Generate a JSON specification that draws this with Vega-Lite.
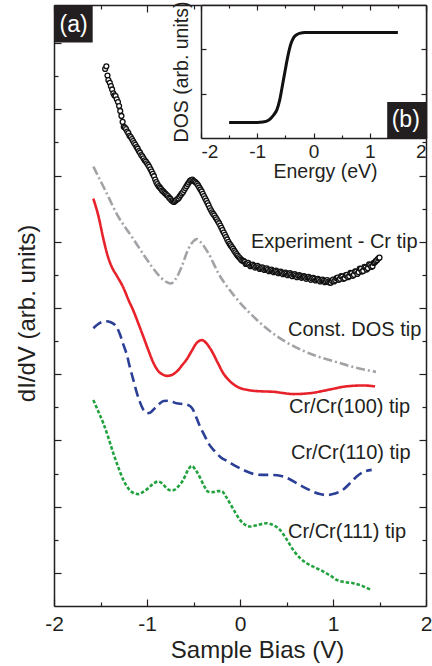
{
  "$schema": "https://vega.github.io/schema/vega-lite/v6.json",
  "width": 372,
  "height": 601,
  "autosize": {"type": "none"},
  "padding": {"left": 54, "top": 5, "right": 6, "bottom": 60},
  "background": "white",
  "config": {
    "view": {"stroke": null},
    "font": "Liberation Sans",
    "axis": {
      "grid": false,
      "domainColor": "#231f20",
      "domainWidth": 1.5,
      "tickColor": "#231f20",
      "tickWidth": 1.2,
      "labelColor": "#231f20",
      "titleColor": "#231f20",
      "labelFont": "Liberation Sans",
      "titleFont": "Liberation Sans",
      "titleFontWeight": "normal",
      "labelOverlap": false
    }
  },
  "datasets": {
    "curves": [
      {"tip": "Const. DOS", "bias": -1.577, "didv": 13.27},
      {"tip": "Const. DOS", "bias": -1.452, "didv": 12.57},
      {"tip": "Const. DOS", "bias": -1.309, "didv": 11.76},
      {"tip": "Const. DOS", "bias": -1.165, "didv": 11.16},
      {"tip": "Const. DOS", "bias": -1.022, "didv": 10.55},
      {"tip": "Const. DOS", "bias": -0.878, "didv": 10.0},
      {"tip": "Const. DOS", "bias": -0.8, "didv": 9.8},
      {"tip": "Const. DOS", "bias": -0.742, "didv": 9.74},
      {"tip": "Const. DOS", "bias": -0.69, "didv": 9.88},
      {"tip": "Const. DOS", "bias": -0.627, "didv": 10.25},
      {"tip": "Const. DOS", "bias": -0.559, "didv": 10.76},
      {"tip": "Const. DOS", "bias": -0.5, "didv": 11.02},
      {"tip": "Const. DOS", "bias": -0.466, "didv": 11.08},
      {"tip": "Const. DOS", "bias": -0.42, "didv": 10.98},
      {"tip": "Const. DOS", "bias": -0.341, "didv": 10.66},
      {"tip": "Const. DOS", "bias": -0.233, "didv": 10.05},
      {"tip": "Const. DOS", "bias": -0.054, "didv": 9.34},
      {"tip": "Const. DOS", "bias": 0.126, "didv": 8.79},
      {"tip": "Const. DOS", "bias": 0.304, "didv": 8.34},
      {"tip": "Const. DOS", "bias": 0.484, "didv": 7.99},
      {"tip": "Const. DOS", "bias": 0.663, "didv": 7.73},
      {"tip": "Const. DOS", "bias": 0.842, "didv": 7.53},
      {"tip": "Const. DOS", "bias": 1.022, "didv": 7.38},
      {"tip": "Const. DOS", "bias": 1.201, "didv": 7.23},
      {"tip": "Const. DOS", "bias": 1.462, "didv": 7.07},

      {"tip": "Cr/Cr(100)", "bias": -1.577, "didv": 12.3},
      {"tip": "Cr/Cr(100)", "bias": -1.52, "didv": 11.75},
      {"tip": "Cr/Cr(100)", "bias": -1.47, "didv": 11.1},
      {"tip": "Cr/Cr(100)", "bias": -1.42, "didv": 10.55},
      {"tip": "Cr/Cr(100)", "bias": -1.38, "didv": 10.25},
      {"tip": "Cr/Cr(100)", "bias": -1.32, "didv": 9.95},
      {"tip": "Cr/Cr(100)", "bias": -1.255, "didv": 9.62},
      {"tip": "Cr/Cr(100)", "bias": -1.2, "didv": 9.25},
      {"tip": "Cr/Cr(100)", "bias": -1.147, "didv": 8.92},
      {"tip": "Cr/Cr(100)", "bias": -1.094, "didv": 8.54},
      {"tip": "Cr/Cr(100)", "bias": -1.04, "didv": 8.14},
      {"tip": "Cr/Cr(100)", "bias": -0.986, "didv": 7.73},
      {"tip": "Cr/Cr(100)", "bias": -0.932, "didv": 7.35},
      {"tip": "Cr/Cr(100)", "bias": -0.88, "didv": 7.1},
      {"tip": "Cr/Cr(100)", "bias": -0.83, "didv": 6.99},
      {"tip": "Cr/Cr(100)", "bias": -0.78, "didv": 6.95},
      {"tip": "Cr/Cr(100)", "bias": -0.73, "didv": 6.98},
      {"tip": "Cr/Cr(100)", "bias": -0.68, "didv": 7.08},
      {"tip": "Cr/Cr(100)", "bias": -0.62, "didv": 7.28},
      {"tip": "Cr/Cr(100)", "bias": -0.573, "didv": 7.45},
      {"tip": "Cr/Cr(100)", "bias": -0.52, "didv": 7.7},
      {"tip": "Cr/Cr(100)", "bias": -0.47, "didv": 7.93},
      {"tip": "Cr/Cr(100)", "bias": -0.41, "didv": 8.03},
      {"tip": "Cr/Cr(100)", "bias": -0.36, "didv": 7.93},
      {"tip": "Cr/Cr(100)", "bias": -0.304, "didv": 7.7},
      {"tip": "Cr/Cr(100)", "bias": -0.24, "didv": 7.35},
      {"tip": "Cr/Cr(100)", "bias": -0.18, "didv": 7.03},
      {"tip": "Cr/Cr(100)", "bias": -0.12, "didv": 6.82},
      {"tip": "Cr/Cr(100)", "bias": -0.035, "didv": 6.63},
      {"tip": "Cr/Cr(100)", "bias": 0.072, "didv": 6.53},
      {"tip": "Cr/Cr(100)", "bias": 0.143, "didv": 6.5},
      {"tip": "Cr/Cr(100)", "bias": 0.25, "didv": 6.48},
      {"tip": "Cr/Cr(100)", "bias": 0.358, "didv": 6.47},
      {"tip": "Cr/Cr(100)", "bias": 0.465, "didv": 6.43},
      {"tip": "Cr/Cr(100)", "bias": 0.573, "didv": 6.4},
      {"tip": "Cr/Cr(100)", "bias": 0.68, "didv": 6.41},
      {"tip": "Cr/Cr(100)", "bias": 0.788, "didv": 6.44},
      {"tip": "Cr/Cr(100)", "bias": 0.9, "didv": 6.5},
      {"tip": "Cr/Cr(100)", "bias": 1.003, "didv": 6.56},
      {"tip": "Cr/Cr(100)", "bias": 1.11, "didv": 6.62},
      {"tip": "Cr/Cr(100)", "bias": 1.218, "didv": 6.65},
      {"tip": "Cr/Cr(100)", "bias": 1.33, "didv": 6.66},
      {"tip": "Cr/Cr(100)", "bias": 1.452, "didv": 6.63},

      {"tip": "Cr/Cr(110)", "bias": -1.577, "didv": 8.39},
      {"tip": "Cr/Cr(110)", "bias": -1.505, "didv": 8.55},
      {"tip": "Cr/Cr(110)", "bias": -1.44, "didv": 8.6},
      {"tip": "Cr/Cr(110)", "bias": -1.39, "didv": 8.57},
      {"tip": "Cr/Cr(110)", "bias": -1.326, "didv": 8.42},
      {"tip": "Cr/Cr(110)", "bias": -1.29, "didv": 8.2},
      {"tip": "Cr/Cr(110)", "bias": -1.255, "didv": 7.9},
      {"tip": "Cr/Cr(110)", "bias": -1.218, "didv": 7.6},
      {"tip": "Cr/Cr(110)", "bias": -1.183, "didv": 7.2},
      {"tip": "Cr/Cr(110)", "bias": -1.147, "didv": 6.83},
      {"tip": "Cr/Cr(110)", "bias": -1.111, "didv": 6.45},
      {"tip": "Cr/Cr(110)", "bias": -1.075, "didv": 6.15},
      {"tip": "Cr/Cr(110)", "bias": -1.04, "didv": 5.93},
      {"tip": "Cr/Cr(110)", "bias": -1.0, "didv": 5.82},
      {"tip": "Cr/Cr(110)", "bias": -0.96, "didv": 5.85},
      {"tip": "Cr/Cr(110)", "bias": -0.92, "didv": 5.96},
      {"tip": "Cr/Cr(110)", "bias": -0.87, "didv": 6.1},
      {"tip": "Cr/Cr(110)", "bias": -0.82, "didv": 6.19},
      {"tip": "Cr/Cr(110)", "bias": -0.77, "didv": 6.2},
      {"tip": "Cr/Cr(110)", "bias": -0.72, "didv": 6.16},
      {"tip": "Cr/Cr(110)", "bias": -0.681, "didv": 6.12},
      {"tip": "Cr/Cr(110)", "bias": -0.62, "didv": 6.1},
      {"tip": "Cr/Cr(110)", "bias": -0.573, "didv": 6.08},
      {"tip": "Cr/Cr(110)", "bias": -0.53, "didv": 6.02},
      {"tip": "Cr/Cr(110)", "bias": -0.5, "didv": 5.9},
      {"tip": "Cr/Cr(110)", "bias": -0.465, "didv": 5.66},
      {"tip": "Cr/Cr(110)", "bias": -0.43, "didv": 5.42},
      {"tip": "Cr/Cr(110)", "bias": -0.385, "didv": 5.17},
      {"tip": "Cr/Cr(110)", "bias": -0.341, "didv": 4.92},
      {"tip": "Cr/Cr(110)", "bias": -0.28, "didv": 4.7},
      {"tip": "Cr/Cr(110)", "bias": -0.215, "didv": 4.51},
      {"tip": "Cr/Cr(110)", "bias": -0.12, "didv": 4.35},
      {"tip": "Cr/Cr(110)", "bias": -0.035, "didv": 4.21},
      {"tip": "Cr/Cr(110)", "bias": 0.05, "didv": 4.09},
      {"tip": "Cr/Cr(110)", "bias": 0.143, "didv": 3.99},
      {"tip": "Cr/Cr(110)", "bias": 0.23, "didv": 3.96},
      {"tip": "Cr/Cr(110)", "bias": 0.323, "didv": 3.96},
      {"tip": "Cr/Cr(110)", "bias": 0.4, "didv": 3.95},
      {"tip": "Cr/Cr(110)", "bias": 0.466, "didv": 3.91},
      {"tip": "Cr/Cr(110)", "bias": 0.54, "didv": 3.82},
      {"tip": "Cr/Cr(110)", "bias": 0.61, "didv": 3.71},
      {"tip": "Cr/Cr(110)", "bias": 0.7, "didv": 3.57},
      {"tip": "Cr/Cr(110)", "bias": 0.788, "didv": 3.45},
      {"tip": "Cr/Cr(110)", "bias": 0.86, "didv": 3.38},
      {"tip": "Cr/Cr(110)", "bias": 0.932, "didv": 3.35},
      {"tip": "Cr/Cr(110)", "bias": 1.0, "didv": 3.38},
      {"tip": "Cr/Cr(110)", "bias": 1.06, "didv": 3.44},
      {"tip": "Cr/Cr(110)", "bias": 1.111, "didv": 3.52},
      {"tip": "Cr/Cr(110)", "bias": 1.18, "didv": 3.7},
      {"tip": "Cr/Cr(110)", "bias": 1.255, "didv": 3.91},
      {"tip": "Cr/Cr(110)", "bias": 1.33, "didv": 4.05},
      {"tip": "Cr/Cr(110)", "bias": 1.416, "didv": 4.11},

      {"tip": "Cr/Cr(111)", "bias": -1.577, "didv": 6.22},
      {"tip": "Cr/Cr(111)", "bias": -1.52, "didv": 5.85},
      {"tip": "Cr/Cr(111)", "bias": -1.47, "didv": 5.52},
      {"tip": "Cr/Cr(111)", "bias": -1.415, "didv": 5.08},
      {"tip": "Cr/Cr(111)", "bias": -1.362, "didv": 4.61},
      {"tip": "Cr/Cr(111)", "bias": -1.31, "didv": 4.2},
      {"tip": "Cr/Cr(111)", "bias": -1.255, "didv": 3.81},
      {"tip": "Cr/Cr(111)", "bias": -1.2, "didv": 3.55},
      {"tip": "Cr/Cr(111)", "bias": -1.15, "didv": 3.42},
      {"tip": "Cr/Cr(111)", "bias": -1.094, "didv": 3.38},
      {"tip": "Cr/Cr(111)", "bias": -1.04, "didv": 3.45},
      {"tip": "Cr/Cr(111)", "bias": -0.986, "didv": 3.56},
      {"tip": "Cr/Cr(111)", "bias": -0.93, "didv": 3.7},
      {"tip": "Cr/Cr(111)", "bias": -0.878, "didv": 3.76},
      {"tip": "Cr/Cr(111)", "bias": -0.83, "didv": 3.68},
      {"tip": "Cr/Cr(111)", "bias": -0.796, "didv": 3.58},
      {"tip": "Cr/Cr(111)", "bias": -0.757, "didv": 3.5},
      {"tip": "Cr/Cr(111)", "bias": -0.717, "didv": 3.5},
      {"tip": "Cr/Cr(111)", "bias": -0.66, "didv": 3.62},
      {"tip": "Cr/Cr(111)", "bias": -0.61, "didv": 3.81},
      {"tip": "Cr/Cr(111)", "bias": -0.56, "didv": 4.1},
      {"tip": "Cr/Cr(111)", "bias": -0.519, "didv": 4.23},
      {"tip": "Cr/Cr(111)", "bias": -0.475, "didv": 4.1},
      {"tip": "Cr/Cr(111)", "bias": -0.43, "didv": 3.88},
      {"tip": "Cr/Cr(111)", "bias": -0.385, "didv": 3.62},
      {"tip": "Cr/Cr(111)", "bias": -0.341, "didv": 3.45},
      {"tip": "Cr/Cr(111)", "bias": -0.29, "didv": 3.44},
      {"tip": "Cr/Cr(111)", "bias": -0.24, "didv": 3.47},
      {"tip": "Cr/Cr(111)", "bias": -0.197, "didv": 3.47},
      {"tip": "Cr/Cr(111)", "bias": -0.15, "didv": 3.3},
      {"tip": "Cr/Cr(111)", "bias": -0.108, "didv": 3.1},
      {"tip": "Cr/Cr(111)", "bias": -0.05, "didv": 2.82},
      {"tip": "Cr/Cr(111)", "bias": 0.0, "didv": 2.6},
      {"tip": "Cr/Cr(111)", "bias": 0.05, "didv": 2.46},
      {"tip": "Cr/Cr(111)", "bias": 0.108, "didv": 2.4},
      {"tip": "Cr/Cr(111)", "bias": 0.194, "didv": 2.45},
      {"tip": "Cr/Cr(111)", "bias": 0.287, "didv": 2.5},
      {"tip": "Cr/Cr(111)", "bias": 0.36, "didv": 2.44},
      {"tip": "Cr/Cr(111)", "bias": 0.43, "didv": 2.3},
      {"tip": "Cr/Cr(111)", "bias": 0.5, "didv": 2.02},
      {"tip": "Cr/Cr(111)", "bias": 0.573, "didv": 1.69},
      {"tip": "Cr/Cr(111)", "bias": 0.645, "didv": 1.45},
      {"tip": "Cr/Cr(111)", "bias": 0.717, "didv": 1.29},
      {"tip": "Cr/Cr(111)", "bias": 0.8, "didv": 1.17},
      {"tip": "Cr/Cr(111)", "bias": 0.896, "didv": 1.04},
      {"tip": "Cr/Cr(111)", "bias": 0.97, "didv": 0.92},
      {"tip": "Cr/Cr(111)", "bias": 1.04, "didv": 0.79},
      {"tip": "Cr/Cr(111)", "bias": 1.13, "didv": 0.72},
      {"tip": "Cr/Cr(111)", "bias": 1.218, "didv": 0.69},
      {"tip": "Cr/Cr(111)", "bias": 1.32, "didv": 0.6},
      {"tip": "Cr/Cr(111)", "bias": 1.416, "didv": 0.48}
    ],
    "experiment": [
      {"bias": -1.45, "didv": 16.22}, {"bias": -1.437, "didv": 16.3}, {"bias": -1.425, "didv": 16.02},
      {"bias": -1.415, "didv": 15.88}, {"bias": -1.4, "didv": 15.8}, {"bias": -1.388, "didv": 15.7},
      {"bias": -1.375, "didv": 15.6}, {"bias": -1.362, "didv": 15.48}, {"bias": -1.35, "didv": 15.42},
      {"bias": -1.338, "didv": 15.4}, {"bias": -1.325, "didv": 15.3}, {"bias": -1.312, "didv": 15.22},
      {"bias": -1.3, "didv": 15.1}, {"bias": -1.288, "didv": 14.95}, {"bias": -1.275, "didv": 14.8},
      {"bias": -1.262, "didv": 14.62}, {"bias": -1.25, "didv": 14.47}, {"bias": -1.238, "didv": 14.45},
      {"bias": -1.225, "didv": 14.4}, {"bias": -1.212, "didv": 14.33}, {"bias": -1.2, "didv": 14.28},
      {"bias": -1.188, "didv": 14.2}, {"bias": -1.175, "didv": 14.16}, {"bias": -1.162, "didv": 14.1},
      {"bias": -1.15, "didv": 14.04}, {"bias": -1.138, "didv": 13.98}, {"bias": -1.125, "didv": 13.93},
      {"bias": -1.112, "didv": 13.86}, {"bias": -1.1, "didv": 13.81}, {"bias": -1.088, "didv": 13.74},
      {"bias": -1.075, "didv": 13.69}, {"bias": -1.062, "didv": 13.62}, {"bias": -1.05, "didv": 13.58},
      {"bias": -1.038, "didv": 13.52}, {"bias": -1.025, "didv": 13.46}, {"bias": -1.012, "didv": 13.42},
      {"bias": -1.0, "didv": 13.37}, {"bias": -0.988, "didv": 13.32}, {"bias": -0.975, "didv": 13.26},
      {"bias": -0.962, "didv": 13.19}, {"bias": -0.95, "didv": 13.12}, {"bias": -0.938, "didv": 13.05},
      {"bias": -0.925, "didv": 12.98}, {"bias": -0.912, "didv": 12.88}, {"bias": -0.9, "didv": 12.8},
      {"bias": -0.888, "didv": 12.74}, {"bias": -0.875, "didv": 12.68}, {"bias": -0.862, "didv": 12.64},
      {"bias": -0.85, "didv": 12.6}, {"bias": -0.838, "didv": 12.55}, {"bias": -0.825, "didv": 12.52},
      {"bias": -0.812, "didv": 12.48}, {"bias": -0.8, "didv": 12.45}, {"bias": -0.788, "didv": 12.41},
      {"bias": -0.775, "didv": 12.38}, {"bias": -0.762, "didv": 12.33}, {"bias": -0.75, "didv": 12.3},
      {"bias": -0.738, "didv": 12.25}, {"bias": -0.725, "didv": 12.23}, {"bias": -0.712, "didv": 12.2},
      {"bias": -0.7, "didv": 12.22}, {"bias": -0.688, "didv": 12.25}, {"bias": -0.675, "didv": 12.28},
      {"bias": -0.662, "didv": 12.31}, {"bias": -0.65, "didv": 12.36}, {"bias": -0.638, "didv": 12.41},
      {"bias": -0.625, "didv": 12.46}, {"bias": -0.612, "didv": 12.5}, {"bias": -0.6, "didv": 12.56},
      {"bias": -0.588, "didv": 12.62}, {"bias": -0.575, "didv": 12.68}, {"bias": -0.562, "didv": 12.74},
      {"bias": -0.55, "didv": 12.79}, {"bias": -0.538, "didv": 12.84}, {"bias": -0.525, "didv": 12.86},
      {"bias": -0.512, "didv": 12.88}, {"bias": -0.5, "didv": 12.84}, {"bias": -0.488, "didv": 12.82},
      {"bias": -0.475, "didv": 12.79}, {"bias": -0.462, "didv": 12.75}, {"bias": -0.45, "didv": 12.7},
      {"bias": -0.438, "didv": 12.64}, {"bias": -0.425, "didv": 12.58}, {"bias": -0.412, "didv": 12.52},
      {"bias": -0.4, "didv": 12.45}, {"bias": -0.388, "didv": 12.38}, {"bias": -0.375, "didv": 12.31},
      {"bias": -0.362, "didv": 12.24}, {"bias": -0.35, "didv": 12.17}, {"bias": -0.338, "didv": 12.1},
      {"bias": -0.325, "didv": 12.02}, {"bias": -0.312, "didv": 11.95}, {"bias": -0.3, "didv": 11.89},
      {"bias": -0.288, "didv": 11.84}, {"bias": -0.275, "didv": 11.79}, {"bias": -0.262, "didv": 11.73},
      {"bias": -0.25, "didv": 11.68}, {"bias": -0.238, "didv": 11.62}, {"bias": -0.225, "didv": 11.56},
      {"bias": -0.212, "didv": 11.49}, {"bias": -0.2, "didv": 11.42}, {"bias": -0.188, "didv": 11.35},
      {"bias": -0.175, "didv": 11.28}, {"bias": -0.162, "didv": 11.21}, {"bias": -0.15, "didv": 11.14},
      {"bias": -0.138, "didv": 11.07}, {"bias": -0.125, "didv": 11.0}, {"bias": -0.112, "didv": 10.94},
      {"bias": -0.1, "didv": 10.89}, {"bias": -0.088, "didv": 10.84}, {"bias": -0.075, "didv": 10.79},
      {"bias": -0.062, "didv": 10.73}, {"bias": -0.05, "didv": 10.68}, {"bias": -0.038, "didv": 10.63},
      {"bias": -0.025, "didv": 10.58}, {"bias": -0.012, "didv": 10.54}, {"bias": 0.0, "didv": 10.5},
      {"bias": 0.012, "didv": 10.46}, {"bias": 0.025, "didv": 10.43}, {"bias": 0.038, "didv": 10.42},
      {"bias": 0.05, "didv": 10.39}, {"bias": 0.062, "didv": 10.33}, {"bias": 0.075, "didv": 10.34},
      {"bias": 0.088, "didv": 10.36}, {"bias": 0.1, "didv": 10.31}, {"bias": 0.112, "didv": 10.26},
      {"bias": 0.125, "didv": 10.29}, {"bias": 0.138, "didv": 10.31}, {"bias": 0.15, "didv": 10.27},
      {"bias": 0.162, "didv": 10.22}, {"bias": 0.175, "didv": 10.25}, {"bias": 0.188, "didv": 10.27},
      {"bias": 0.2, "didv": 10.23}, {"bias": 0.212, "didv": 10.18}, {"bias": 0.225, "didv": 10.21},
      {"bias": 0.238, "didv": 10.23}, {"bias": 0.25, "didv": 10.2}, {"bias": 0.262, "didv": 10.15},
      {"bias": 0.275, "didv": 10.18}, {"bias": 0.288, "didv": 10.2}, {"bias": 0.3, "didv": 10.16},
      {"bias": 0.312, "didv": 10.11}, {"bias": 0.325, "didv": 10.14}, {"bias": 0.338, "didv": 10.16},
      {"bias": 0.35, "didv": 10.12}, {"bias": 0.362, "didv": 10.08}, {"bias": 0.375, "didv": 10.11},
      {"bias": 0.388, "didv": 10.13}, {"bias": 0.4, "didv": 10.1}, {"bias": 0.412, "didv": 10.05},
      {"bias": 0.425, "didv": 10.08}, {"bias": 0.438, "didv": 10.1}, {"bias": 0.45, "didv": 10.07},
      {"bias": 0.462, "didv": 10.02}, {"bias": 0.475, "didv": 10.05}, {"bias": 0.488, "didv": 10.07},
      {"bias": 0.5, "didv": 10.04}, {"bias": 0.512, "didv": 9.99}, {"bias": 0.525, "didv": 10.03},
      {"bias": 0.538, "didv": 10.05}, {"bias": 0.55, "didv": 10.01}, {"bias": 0.562, "didv": 9.96},
      {"bias": 0.575, "didv": 10.0}, {"bias": 0.588, "didv": 10.02}, {"bias": 0.6, "didv": 9.98},
      {"bias": 0.612, "didv": 9.93}, {"bias": 0.625, "didv": 9.97}, {"bias": 0.638, "didv": 9.99},
      {"bias": 0.65, "didv": 9.96}, {"bias": 0.662, "didv": 9.91}, {"bias": 0.675, "didv": 9.94},
      {"bias": 0.688, "didv": 9.96}, {"bias": 0.7, "didv": 9.93}, {"bias": 0.712, "didv": 9.88},
      {"bias": 0.725, "didv": 9.92}, {"bias": 0.738, "didv": 9.94}, {"bias": 0.75, "didv": 9.9},
      {"bias": 0.762, "didv": 9.85}, {"bias": 0.775, "didv": 9.89}, {"bias": 0.788, "didv": 9.91},
      {"bias": 0.8, "didv": 9.88}, {"bias": 0.812, "didv": 9.83}, {"bias": 0.825, "didv": 9.86},
      {"bias": 0.838, "didv": 9.88}, {"bias": 0.85, "didv": 9.85}, {"bias": 0.862, "didv": 9.8},
      {"bias": 0.875, "didv": 9.84}, {"bias": 0.888, "didv": 9.86}, {"bias": 0.9, "didv": 9.82},
      {"bias": 0.912, "didv": 9.78}, {"bias": 0.925, "didv": 9.8}, {"bias": 0.938, "didv": 9.84},
      {"bias": 0.95, "didv": 9.8}, {"bias": 0.962, "didv": 9.77}, {"bias": 0.975, "didv": 9.76},
      {"bias": 0.988, "didv": 9.82}, {"bias": 1.0, "didv": 9.86}, {"bias": 1.012, "didv": 9.8},
      {"bias": 1.025, "didv": 9.84}, {"bias": 1.038, "didv": 9.9}, {"bias": 1.05, "didv": 9.92},
      {"bias": 1.062, "didv": 9.85}, {"bias": 1.075, "didv": 9.88}, {"bias": 1.088, "didv": 9.96},
      {"bias": 1.1, "didv": 9.95}, {"bias": 1.112, "didv": 9.88}, {"bias": 1.125, "didv": 9.9},
      {"bias": 1.138, "didv": 9.99}, {"bias": 1.15, "didv": 10.0}, {"bias": 1.162, "didv": 9.93},
      {"bias": 1.175, "didv": 9.96}, {"bias": 1.188, "didv": 10.06}, {"bias": 1.2, "didv": 10.05},
      {"bias": 1.212, "didv": 9.97}, {"bias": 1.225, "didv": 10.0}, {"bias": 1.238, "didv": 10.11},
      {"bias": 1.25, "didv": 10.1}, {"bias": 1.262, "didv": 10.03}, {"bias": 1.275, "didv": 10.08},
      {"bias": 1.288, "didv": 10.19}, {"bias": 1.3, "didv": 10.18}, {"bias": 1.312, "didv": 10.1},
      {"bias": 1.325, "didv": 10.12}, {"bias": 1.338, "didv": 10.24}, {"bias": 1.35, "didv": 10.22},
      {"bias": 1.362, "didv": 10.16}, {"bias": 1.375, "didv": 10.2}, {"bias": 1.388, "didv": 10.32},
      {"bias": 1.4, "didv": 10.3}, {"bias": 1.412, "didv": 10.24}, {"bias": 1.425, "didv": 10.26},
      {"bias": 1.438, "didv": 10.36}, {"bias": 1.45, "didv": 10.38}, {"bias": 1.462, "didv": 10.42},
      {"bias": 1.475, "didv": 10.45}, {"bias": 1.488, "didv": 10.5}, {"bias": 1.5, "didv": 10.52}
    ],
    "dos": [
      {"energy": -1.5, "dos": 0.35}, {"energy": -1.2, "dos": 0.35}, {"energy": -1.0, "dos": 0.35},
      {"energy": -0.9, "dos": 0.36}, {"energy": -0.8, "dos": 0.4}, {"energy": -0.72, "dos": 0.5},
      {"energy": -0.65, "dos": 0.64}, {"energy": -0.6, "dos": 0.86}, {"energy": -0.55, "dos": 1.2},
      {"energy": -0.5, "dos": 1.55}, {"energy": -0.45, "dos": 1.88}, {"energy": -0.4, "dos": 2.13},
      {"energy": -0.35, "dos": 2.27}, {"energy": -0.3, "dos": 2.33}, {"energy": -0.25, "dos": 2.36},
      {"energy": -0.15, "dos": 2.38}, {"energy": 0.0, "dos": 2.38}, {"energy": 0.5, "dos": 2.38},
      {"energy": 1.0, "dos": 2.38}, {"energy": 1.5, "dos": 2.38}
    ],
    "labels": [
      {"label": "Experiment - Cr tip", "x": 0.118, "y": 11.0},
      {"label": "Const. DOS tip", "x": 0.516, "y": 8.34},
      {"label": "Cr/Cr(100) tip", "x": 0.527, "y": 6.02},
      {"label": "Cr/Cr(110) tip", "x": 0.548, "y": 4.61},
      {"label": "Cr/Cr(111) tip", "x": 0.516, "y": 2.24}
    ]
  },
  "layer": [
    {
      "data": {"name": "curves"},
      "mark": {"type": "line", "strokeWidth": 2.6, "interpolate": "monotone"},
      "encoding": {
        "x": {
          "field": "bias", "type": "quantitative",
          "scale": {"domain": [-2, 2]},
          "axis": {
            "orient": "bottom",
            "values": [-2, -1.5, -1, -0.5, 0, 0.5, 1, 1.5, 2],
            "labelExpr": "datum.value % 1 === 0 ? '' + datum.value : ''",
            "labelFontSize": 21,
            "labelPadding": 14,
            "labelFlush": false,
            "tickSize": {"condition": {"test": "datum.value % 1 === 0", "value": -7}, "value": -4},
            "title": "Sample Bias (V)",
            "titleFontSize": 24,
            "titlePadding": 1,
            "titleX": 203
          }
        },
        "y": {
          "field": "didv", "type": "quantitative",
          "scale": {"domain": [0, 18.15]},
          "axis": {
            "orient": "left",
            "values": [1, 2, 3, 4, 5, 6, 7, 8, 9, 10, 11, 12, 13, 14, 15, 16, 17, 18],
            "labels": false,
            "tickSize": {"condition": {"test": "datum.value % 2 === 1", "value": -7}, "value": -4},
            "title": "dI/dV (arb. units)",
            "titleFontSize": 24,
            "titlePadding": 14,
            "titleY": 308
          }
        },
        "color": {
          "field": "tip", "type": "nominal", "legend": null,
          "scale": {"domain": ["Const. DOS", "Cr/Cr(100)", "Cr/Cr(110)", "Cr/Cr(111)"],
                    "range": ["#a2a3a7", "#e8222a", "#2b3f96", "#21a23f"]}
        },
        "strokeDash": {
          "field": "tip", "type": "nominal", "legend": null,
          "scale": {"domain": ["Const. DOS", "Cr/Cr(100)", "Cr/Cr(110)", "Cr/Cr(111)"],
                    "range": [[9, 3, 2, 3], [1, 0], [10, 5], [3.5, 2]]}
        }
      }
    },
    {
      "data": {"name": "experiment"},
      "mark": {"type": "point", "shape": "circle", "fill": "white", "fillOpacity": 1, "stroke": "#111111", "strokeWidth": 1.3, "size": 24, "opacity": 1},
      "encoding": {
        "x": {"field": "bias", "type": "quantitative", "scale": {"domain": [-2, 2]}, "axis": null},
        "y": {"field": "didv", "type": "quantitative", "scale": {"domain": [0, 18.15]}, "axis": null}
      }
    },
    {
      "data": {"name": "labels"},
      "mark": {"type": "text", "align": "left", "baseline": "middle", "fontSize": 20, "font": "Liberation Sans", "color": "#231f20"},
      "encoding": {
        "x": {
          "field": "x", "type": "quantitative", "scale": {"domain": [-2, 2]},
          "axis": {
            "orient": "top",
            "values": [-2, -1.5, -1, -0.5, 0, 0.5, 1, 1.5, 2],
            "labels": false, "title": null,
            "tickSize": {"condition": {"test": "datum.value % 1 === 0", "value": -7}, "value": -4}
          }
        },
        "y": {
          "field": "y", "type": "quantitative", "scale": {"domain": [0, 18.15]},
          "axis": {
            "orient": "right",
            "values": [1, 2, 3, 4, 5, 6, 7, 8, 9, 10, 11, 12, 13, 14, 15, 16, 17, 18],
            "labels": false, "title": null,
            "tickSize": {"condition": {"test": "datum.value % 2 === 1", "value": -7}, "value": -4}
          }
        },
        "text": {"field": "label", "type": "nominal"}
      }
    },
    {
      "data": {"values": [{"tag": "(a)"}]},
      "mark": {"type": "rect", "color": "#231f20"},
      "encoding": {
        "x": {"datum": -2, "type": "quantitative", "scale": {"domain": [-2, 2]}, "axis": null},
        "x2": {"datum": -1.584},
        "y": {"datum": 18.15, "type": "quantitative", "scale": {"domain": [0, 18.15]}, "axis": null},
        "y2": {"datum": 17.02}
      }
    },
    {
      "data": {"values": [{"tag": "(a)"}]},
      "mark": {"type": "text", "align": "center", "baseline": "middle", "fontSize": 23, "font": "Liberation Sans", "color": "white"},
      "encoding": {
        "x": {"datum": -1.79, "type": "quantitative", "scale": {"domain": [-2, 2]}, "axis": null},
        "y": {"datum": 17.55, "type": "quantitative", "scale": {"domain": [0, 18.15]}, "axis": null},
        "text": {"field": "tag", "type": "nominal"}
      }
    },
    {
      "data": {"values": [{"tag": "(b)"}]},
      "mark": {"type": "rect", "fill": "white"},
      "encoding": {
        "x": {
          "datum": -2, "type": "quantitative",
          "scale": {"domain": [-2, 2], "range": [147, 372]},
          "axis": {
            "orient": "bottom", "offset": -468, "zindex": 1,
            "values": [-2, -1.5, -1, -0.5, 0, 0.5, 1, 1.5, 2],
            "labelExpr": "datum.value % 1 === 0 ? '' + datum.value : ''",
            "labelFontSize": 19,
            "labelPadding": 9,
            "labelFlush": true,
            "tickSize": {"condition": {"test": "datum.value % 1 === 0", "value": -5}, "value": -3},
            "title": "Energy (eV)",
            "titleFontSize": 19.5,
            "titlePadding": -1,
            "titleX": 271
          }
        },
        "x2": {"datum": 2},
        "y": {
          "datum": 0, "type": "quantitative",
          "scale": {"domain": [0, 3], "range": [133, 0]},
          "axis": {
            "orient": "left", "offset": -147, "zindex": 1,
            "values": [1, 2], "labels": false, "tickSize": -5,
            "title": "DOS (arb. units)", "titleFontSize": 19.5, "titlePadding": 9
          }
        },
        "y2": {"datum": 3}
      }
    },
    {
      "data": {"name": "dos"},
      "mark": {"type": "line", "color": "#111111", "strokeWidth": 3, "interpolate": "monotone"},
      "encoding": {
        "x": {
          "field": "energy", "type": "quantitative",
          "scale": {"domain": [-2, 2], "range": [147, 372]},
          "axis": {
            "orient": "top", "zindex": 1,
            "values": [-2, -1.5, -1, -0.5, 0, 0.5, 1, 1.5, 2],
            "labels": false, "title": null,
            "tickSize": {"condition": {"test": "datum.value % 1 === 0", "value": -5}, "value": -3}
          }
        },
        "y": {
          "field": "dos", "type": "quantitative",
          "scale": {"domain": [0, 3], "range": [133, 0]},
          "axis": {"orient": "right", "zindex": 1, "values": [1, 2], "labels": false, "title": null, "tickSize": -5}
        }
      }
    },
    {
      "data": {"values": [{"tag": "(b)"}]},
      "mark": {"type": "rect", "color": "#231f20"},
      "encoding": {
        "x": {"datum": 1.31, "type": "quantitative", "scale": {"domain": [-2, 2], "range": [147, 372]}, "axis": null},
        "x2": {"datum": 2},
        "y": {"datum": 0, "type": "quantitative", "scale": {"domain": [0, 3], "range": [133, 0]}, "axis": null},
        "y2": {"datum": 0.81}
      }
    },
    {
      "data": {"values": [{"tag": "(b)"}]},
      "mark": {"type": "text", "align": "center", "baseline": "middle", "fontSize": 23, "font": "Liberation Sans", "color": "white"},
      "encoding": {
        "x": {"datum": 1.64, "type": "quantitative", "scale": {"domain": [-2, 2], "range": [147, 372]}, "axis": null},
        "y": {"datum": 0.41, "type": "quantitative", "scale": {"domain": [0, 3], "range": [133, 0]}, "axis": null},
        "text": {"field": "tag", "type": "nominal"}
      }
    }
  ],
  "resolve": {
    "scale": {"x": "independent", "y": "independent", "color": "independent", "strokeDash": "independent"},
    "axis": {"x": "independent", "y": "independent"}
  }
}
